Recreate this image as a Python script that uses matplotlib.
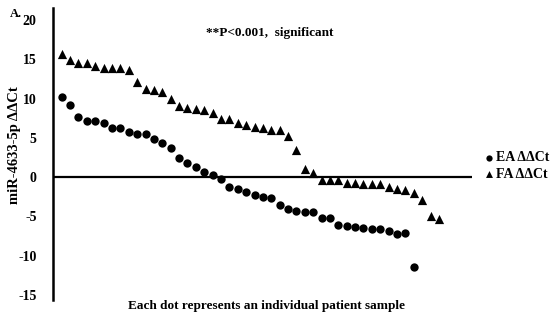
import matplotlib
matplotlib.use("Agg")
import matplotlib.pyplot as plt
import numpy as np

plt.rcParams['font.family'] = ['Liberation Serif', 'DejaVu Serif']
plt.rcParams['font.weight'] = 'bold'
plt.rcParams['axes.unicode_minus'] = False

# EA and FA delta-delta-Ct per patient sample, sorted descending
ea_values = [10.2, 9.2, 7.6, 7.15, 7.15, 6.95, 6.3, 6.2, 5.75, 5.55,
             5.5, 4.9, 4.35, 3.75, 2.5, 1.75, 1.3, 0.67, 0.25, -0.17,
             -1.3, -1.5, -1.95, -2.3, -2.5, -2.6, -3.55, -4.05, -4.3, -4.4,
             -4.4, -5.25, -5.25, -6.1, -6.2, -6.3, -6.45, -6.65, -6.65, -6.8,
             -7.25, -7.05, -11.4]
fa_values = [15.7, 14.95, 14.5, 14.5, 14.15, 13.9, 13.9, 13.9, 13.7, 12.1,
             11.2, 11.05, 10.8, 10.0, 9.1, 8.8, 8.7, 8.5, 8.2, 7.45,
             7.45, 6.95, 6.7, 6.35, 6.2, 6.05, 6.05, 5.3, 3.4, 1.1,
             0.55, -0.3, -0.3, -0.3, -0.8, -0.8, -0.9, -0.9, -0.9, -1.2,
             -1.55, -1.65, -2.05, -2.9, -5.0, -5.3]
yticks = [-15, -10, -5, 0, 5, 10, 15, 20]

ea_x = np.arange(1, len(ea_values) + 1)
fa_x = np.arange(1, len(fa_values) + 1)

fig = plt.figure(figsize=(5.5, 3.2), dpi=100)
ax = fig.add_axes([0.097, 0.061, 0.762, 0.913])

ax.scatter(ea_x, ea_values, marker='o', s=36, color='black', lw=0,
           label='EA ΔΔCt', zorder=3)
ax.scatter(fa_x, fa_values, marker='^', s=44, color='black', lw=0,
           label='FA ΔΔCt', zorder=3)
ax.axhline(0, color='black', lw=1.6, zorder=2)

ax.set_xlim(0, 50)
ax.set_ylim(-15.7, 21.5)
ax.set_yticks(yticks)
ax.set_xticks([])
for s in ['top', 'right', 'bottom']:
    ax.spines[s].set_visible(False)
ax.spines['left'].set_linewidth(1.8)
ax.tick_params(axis='y', length=0, pad=12, labelsize=10)
for lbl in ax.get_yticklabels():
    lbl.set_fontweight('bold')

fig.text(0.027, 0.545, 'miR-4633-5p ΔΔCt', rotation=90, ha='center',
         va='center', fontsize=10.5, fontweight='bold')
fig.text(0.485, 0.043, 'Each dot represents an individual patient sample',
         ha='center', va='center', fontsize=9.5, fontweight='bold')
fig.text(0.49, 0.897, '**P<0.001,  significant', ha='center', va='center',
         fontsize=9.5, fontweight='bold')
fig.text(0.018, 0.957, 'A.', ha='left', va='center', fontsize=9,
         fontweight='bold')

ax.legend(loc='center left', bbox_to_anchor=(1.0, 0.46), frameon=False,
          handletextpad=0.1, handlelength=0.8, labelspacing=0.25,
          prop={'weight': 'bold', 'size': 10}, markerscale=0.75,
          borderaxespad=0.4)

fig.savefig('out.png', dpi=100)
